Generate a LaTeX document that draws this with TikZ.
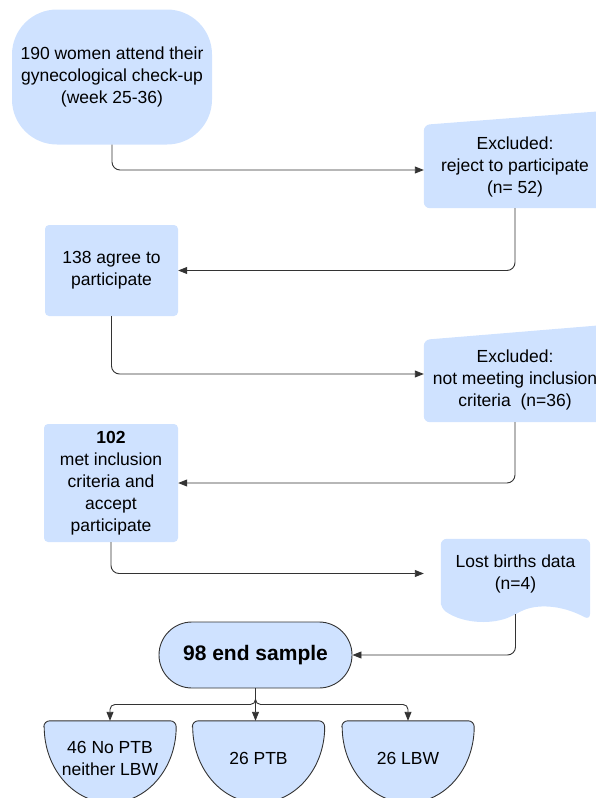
\documentclass[tikz,border=0pt]{standalone}
\usepackage{fontspec}
\setmainfont{Liberation Sans}
\usetikzlibrary{arrows.meta,calc,backgrounds}

\definecolor{boxblue}{RGB}{207,226,255}
\definecolor{linegray}{RGB}{51,51,51}

\begin{document}
\begin{tikzpicture}[x=1pt, y=1pt, font=\fontsize{17.5}{22}\selectfont,
    main/.style = {fill=boxblue, rounded corners=4pt, align=center, inner sep=0pt},
    plain/.style = {align=center, inner sep=0pt},
    half/.style = {plain, minimum width=132pt, minimum height=75pt},
    link/.style = {draw=linegray, line width=0.9pt, rounded corners=8pt, -{Triangle[length=9pt,width=7pt]}}]
    \useasboundingbox (0,0) rectangle (595,-798);
    \clip (0,0) rectangle (595,-798);

    \node[main, rounded corners=45pt, minimum width=200pt, minimum height=135pt] (start) at (112,-77) {190 women attend their\\gynecological check-up\\(week 25-36)};
    \node[plain, minimum width=182pt, minimum height=83pt] (excl1) at (515,-166.5) {Excluded:\\reject to participate\\(n= 52)};
    \node[main, minimum width=133pt, minimum height=91pt] (agree) at (111.5,-270.5) {138 agree to\\participate};
    \node[plain, minimum width=182pt, minimum height=84pt] (excl2) at (515,-380) {Excluded:\\not meeting inclusion\\criteria~ (n=36)};
    \node[main, minimum width=134pt, minimum height=118pt] (met) at (111,-483) {\textbf{102}\\met inclusion\\criteria and\\accept\\participate};
    \node[plain, minimum width=149pt, minimum height=69pt] (lost) at (515.5,-573.5) {Lost births data\\(n=4)};
    \node[main, draw=linegray, line width=0.9pt, rounded corners=33pt, minimum width=193pt, minimum height=66pt, font=\fontsize{21}{25}\selectfont\bfseries] (sample) at (255.5,-655) {98 end sample};
    \node[half] (nolow) at (110,-758.5) {46 No PTB\\neither LBW};
    \node[half] (ptb) at (258.5,-758.5) {26 PTB};
    \node[half] (lbw) at (408,-758.5) {26 LBW};

    % shapes behind the texts
    \begin{scope}[on background layer]
        \fill[boxblue, rounded corners=6pt] (excl1.south west) -- (excl1.north west) -- ($(excl1.north east)+(0,14)$) -- (excl1.south east) -- cycle;
        \fill[boxblue, rounded corners=6pt] (excl2.south west) -- ($(excl2.north west)+(0,-2)$) -- ($(excl2.north east)+(0,13)$) -- (excl2.south east) -- cycle;
        \fill[boxblue, rounded corners=6pt] (lost.south west) -- (lost.north west) -- (lost.north east) -- (590,-620) .. controls (560,-604) and (535,-604) .. ($(lost.south)+(0,-6)$) .. controls (495,-624) and (465,-625) .. (lost.south west) -- cycle;
        \filldraw[fill=boxblue, draw=linegray, line width=0.9pt] ($(nolow.north west)+(0,-6)$) arc[start angle=180, end angle=90, radius=6] -- ($(nolow.north east)+(-6,0)$) arc[start angle=90, end angle=0, radius=6] arc[start angle=0, end angle=-180, x radius=66, y radius=76] -- cycle;
        \filldraw[fill=boxblue, draw=linegray, line width=0.9pt] ($(ptb.north west)+(0,-6)$) arc[start angle=180, end angle=90, radius=6] -- ($(ptb.north east)+(-6,0)$) arc[start angle=90, end angle=0, radius=6] arc[start angle=0, end angle=-180, x radius=66, y radius=76] -- cycle;
        \filldraw[fill=boxblue, draw=linegray, line width=0.9pt] ($(lbw.north west)+(0,-6)$) arc[start angle=180, end angle=90, radius=6] -- ($(lbw.north east)+(-6,0)$) arc[start angle=90, end angle=0, radius=6] arc[start angle=0, end angle=-180, x radius=66, y radius=76] -- cycle;
    \end{scope}

    \draw[link] (start.south) |- ([yshift=-3.5pt]excl1.west);
    \draw[link] (excl1.south) |- (agree.east);
    \draw[link] (agree.south) |- ([yshift=6pt]excl2.west);
    \draw[link] (excl2.south) |- (met.east);
    \draw[link, shorten >=17pt] (met.south) |- (lost.west);
    \draw[link] ([yshift=-6pt]lost.south) |- (sample.east);
    \draw[link, rounded corners=5pt] (sample.south) -- ++(0,-16) -| (nolow.north);
    \draw[link, rounded corners=5pt] (sample.south) -- ++(0,-16) -| (lbw.north);
    \draw[link] (sample.south) -- (sample.south |- ptb.north);
\end{tikzpicture}
\end{document}
